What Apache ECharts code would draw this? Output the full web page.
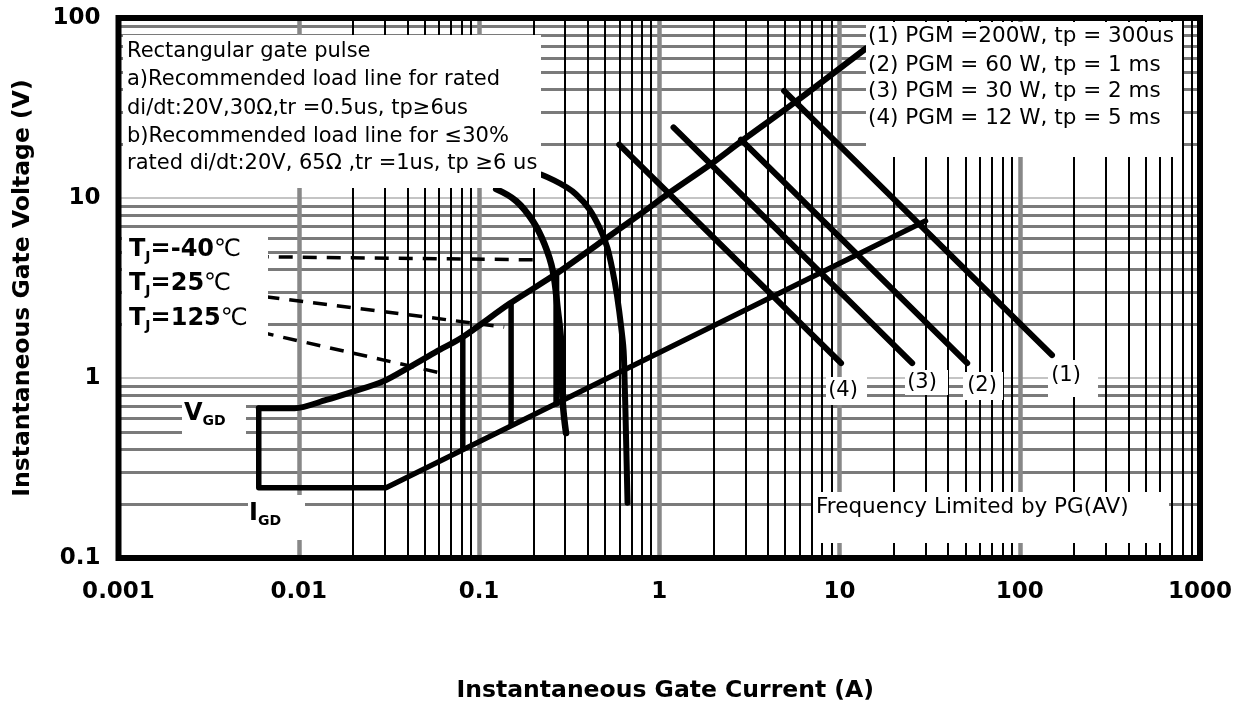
<!DOCTYPE html>
<html><head><meta charset="utf-8">
<script src="https://cdn.jsdelivr.net/npm/echarts@6/dist/echarts.min.js"></script>
<style>html,body{margin:0;padding:0;background:#fff}#c{width:1243px;height:711px}</style>
</head><body><div id="c"></div>
<script>
// ---- axis structure ----
const xTickLabels = ['0.001','0.01','0.1','1','10','100','1000'];
const yTickLabels = ['0.1','1','10','100'];
const xDecades = [0.001, 0.01, 0.1, 1, 10, 100];
const yDecades = [0.1, 1, 10];
const minorSteps = [2, 3, 4, 5, 6, 7, 8, 9];
const xMajorLines = [0.01, 0.1, 1, 10, 100];
const yMajorLines = [1, 10];

// ---- gate characteristic boundaries (I in A, V in V) ----
const upperBoundI = [0.006, 0.0095, 0.0142, 0.020, 0.0293, 0.0412, 0.058, 0.0813, 0.148, 0.268, 0.486, 0.881, 1.11, 1.93, 2.84, 5.72, 14.0];
const upperBoundV = [0.68, 0.68, 0.755, 0.84, 0.955, 1.15, 1.40, 1.69, 2.59, 3.79, 5.79, 8.84, 10.5, 15.4, 20.6, 34.3, 67.7];
const lowerBoundI = [0.006, 0.006, 0.0306, 30.0];
const lowerBoundV = [0.68, 0.246, 0.246, 7.46];

// ---- load line curves ----
const loadCurveAI = [0.1245, 0.1607, 0.1986, 0.2307, 0.2565, 0.2737, 0.285, 0.291, 0.304];
const loadCurveAV = [11.2, 9.63, 7.46, 5.55, 3.95, 2.38, 1.62, 0.755, 0.494];
const loadCurveBI = [0.221, 0.345, 0.466, 0.551, 0.627, 0.64, 0.667];
const loadCurveBV = [13.5, 10.5, 6.85, 3.95, 1.62, 1.11, 0.203];

// ---- temperature trigger limits (vertical segments) ----
const tj125I = [0.0813, 0.0813]; const tj125V = [1.69, 0.406];
const tj25I  = [0.1507, 0.1507]; const tj25V  = [2.60, 0.55];
const tjm40I = [0.2685, 0.2685]; const tjm40V = [3.79, 0.72];

// ---- dashed pointer lines ----
const dashM40I = [0.0057, 0.2253]; const dashM40V = [4.72, 4.53];
const dash25I  = [0.00482, 0.138]; const dash25V  = [2.94, 1.92];
const dash125I = [0.00608, 0.063]; const dash125V = [1.80, 1.06];

// ---- peak gate power lines ----
const pgm1I = [4.93, 151];  const pgm1V = [39.4, 1.34];
const pgm2I = [2.84, 51.1]; const pgm2V = [21.1, 1.21];
const pgm3I = [1.20, 25.3]; const pgm3V = [24.7, 1.21];
const pgm4I = [0.60, 10.2]; const pgm4V = [19.8, 1.21];

const FONT = "'DejaVu Sans', 'Liberation Sans', sans-serif";

function pairs(I, V) { return I.map((v, k) => [v, V[k]]); }
function curve(I, V, width, opts) {
  return Object.assign({
    type: 'line', data: pairs(I, V), symbol: 'none', showSymbol: false, silent: true,
    animation: false, z: 5,
    lineStyle: { color: '#000', width: width, cap: 'round', join: 'round' }
  }, opts || {});
}
function minorOf(decades) {
  const out = [];
  decades.forEach(d => minorSteps.forEach(m => out.push(Number((d * m).toPrecision(6)))));
  return out;
}
const xMinor = minorOf(xDecades);
const yMinor = minorOf(yDecades);

const gridLineData = []
  .concat(yMinor.map(v => ({ yAxis: v, lineStyle: { color: '#7a7a7a', width: 3, type: 'solid' } })))
  .concat(yMajorLines.map(v => ({ yAxis: v, lineStyle: { color: '#b0b0b0', width: 1.5, type: 'solid' } })))
  .concat(xMinor.map(v => ({ xAxis: v, lineStyle: { color: '#000', width: 2, type: 'solid' } })))
  .concat(xMajorLines.map(v => ({ xAxis: v, lineStyle: { color: '#888', width: 4.5, type: 'solid' } })));

function tickIndex(v, base) { return Math.round(Math.log10(v) - Math.log10(base)); }

function rect(x, y, w, h) {
  return { type: 'rect', z: 100, silent: true, shape: { x, y, width: w, height: h }, style: { fill: '#fff' } };
}
function txt(x, y, s, extra) {
  return { type: 'text', z: 101, silent: true, x, y,
    style: Object.assign({ text: s, font: "21px " + FONT, fill: '#000', verticalAlign: 'middle', align: 'left' }, extra || {}) };
}
const tjRich = {
  b: { fontFamily: FONT, fontSize: 24, fontWeight: 'bold', fill: '#000' },
  s: { fontFamily: FONT, fontSize: 14, fontWeight: 'bold', fill: '#000', padding: [15, 0, 0, 0] },
  c: { fontFamily: FONT, fontSize: 24, fill: '#000' }
};

const boxText = ['Rectangular gate pulse', 'a)Recommended load line for rated', 'di/dt:20V,30Ω,tr =0.5us, tp≥6us',
  'b)Recommended load line for ≤30%', 'rated di/dt:20V, 65Ω ,tr =1us, tp ≥6 us'];
const boxY = [51.7, 80, 108.3, 136.7, 163.3];
const legendText = ['(1) PGM =200W, tp = 300us', '(2) PGM = 60 W, tp = 1 ms', '(3) PGM = 30 W, tp = 2 ms', '(4) PGM = 12 W, tp = 5 ms'];
const legendY = [36.7, 65, 91.7, 118.3];

const graphics = [
  rect(123, 35, 418, 153),
  ...boxText.map((s, k) => txt(127, boxY[k], s, { font: "21px " + FONT })),
  rect(866, 22, 316, 135),
  ...legendText.map((s, k) => txt(868, legendY[k], s, { font: "21.5px " + FONT })),
  rect(122, 232, 146, 130),
  txt(129, 250, '{b|T}{s|J}{b|=-40}{c|℃}', { rich: tjRich, font: undefined }),
  txt(129, 284, '{b|T}{s|J}{b|=25}{c|℃}', { rich: tjRich, font: undefined }),
  txt(129, 319, '{b|T}{s|J}{b|=125}{c|℃}', { rich: tjRich, font: undefined }),
  rect(182, 398, 64, 37),
  txt(184, 414, '{b|V}{s|GD}', { rich: tjRich, font: undefined }),
  rect(248, 495, 57, 45),
  txt(249, 514, '{b|I}{s|GD}', { rich: tjRich, font: undefined }),
  rect(813, 492, 356, 51),
  txt(816, 507, 'Frequency Limited by PG(AV)', { font: "21.5px " + FONT }),
  rect(826, 377, 41, 28), txt(843, 391, '(4)', { align: 'center' }),
  rect(905, 370, 43, 25), txt(922, 383, '(3)', { align: 'center' }),
  rect(963, 372, 40, 28), txt(982, 386, '(2)', { align: 'center' }),
  rect(1048, 360, 50, 37), txt(1066, 376, '(1)', { align: 'center' })
];

const DASH = { color: '#000', width: 3.5, type: [14, 10], cap: 'butt' };

const chart = echarts.init(document.getElementById('c'), null, { renderer: 'canvas' });
chart.setOption({
  animation: false,
  backgroundColor: '#fff',
  grid: { left: 118.5, right: 43, top: 18, bottom: 153, show: true, z: 10,
          backgroundColor: 'transparent', borderColor: '#000', borderWidth: 6 },
  xAxis: {
    type: 'log', logBase: 10, min: 0.001, max: 1000, splitNumber: 6,
    name: 'Instantaneous Gate Current (A)', nameLocation: 'middle', nameGap: 121,
    nameTextStyle: { fontFamily: FONT, fontSize: 23.5, fontWeight: 'bold', color: '#000', padding: [0, 0, 0, 12] },
    axisLine: { show: false }, axisTick: { show: false }, splitLine: { show: false },
    axisLabel: { fontFamily: FONT, fontSize: 23, fontWeight: 'bold', color: '#000', margin: 23,
      showMinLabel: true, showMaxLabel: true,
      formatter: v => xTickLabels[tickIndex(v, 0.001)] }
  },
  yAxis: {
    type: 'log', logBase: 10, min: 0.1, max: 100, splitNumber: 3,
    name: 'Instantaneous Gate Voltage (V)', nameLocation: 'middle', nameGap: 84,
    nameTextStyle: { fontFamily: FONT, fontSize: 23.5, fontWeight: 'bold', color: '#000' },
    axisLine: { show: false }, axisTick: { show: false }, splitLine: { show: false },
    axisLabel: { fontFamily: FONT, fontSize: 23, fontWeight: 'bold', color: '#000', margin: 18,
      showMinLabel: true, showMaxLabel: true,
      formatter: v => yTickLabels[tickIndex(v, 0.1)] }
  },
  series: [
    { type: 'line', data: [], silent: true, z: 1,
      markLine: { symbol: ['none', 'none'], silent: true, animation: false, label: { show: false },
        emphasis: { disabled: true }, data: gridLineData } },
    curve(dashM40I, dashM40V, 3.5, { lineStyle: DASH }),
    curve(dash25I, dash25V, 3.5, { lineStyle: DASH }),
    curve(dash125I, dash125V, 3.5, { lineStyle: DASH }),
    curve(upperBoundI, upperBoundV, 6, { smooth: 0.3 }),
    curve(lowerBoundI, lowerBoundV, 5.5),
    curve(loadCurveAI, loadCurveAV, 6.5, { smooth: 0.4 }),
    curve(loadCurveBI, loadCurveBV, 6, { smooth: 0.4 }),
    curve(tj125I, tj125V, 5.5),
    curve(tj25I, tj25V, 5.5),
    curve(tjm40I, tjm40V, 6),
    curve(pgm1I, pgm1V, 6),
    curve(pgm2I, pgm2V, 6),
    curve(pgm3I, pgm3V, 6),
    curve(pgm4I, pgm4V, 6)
  ],
  graphic: graphics
});
</script>
</body></html>
